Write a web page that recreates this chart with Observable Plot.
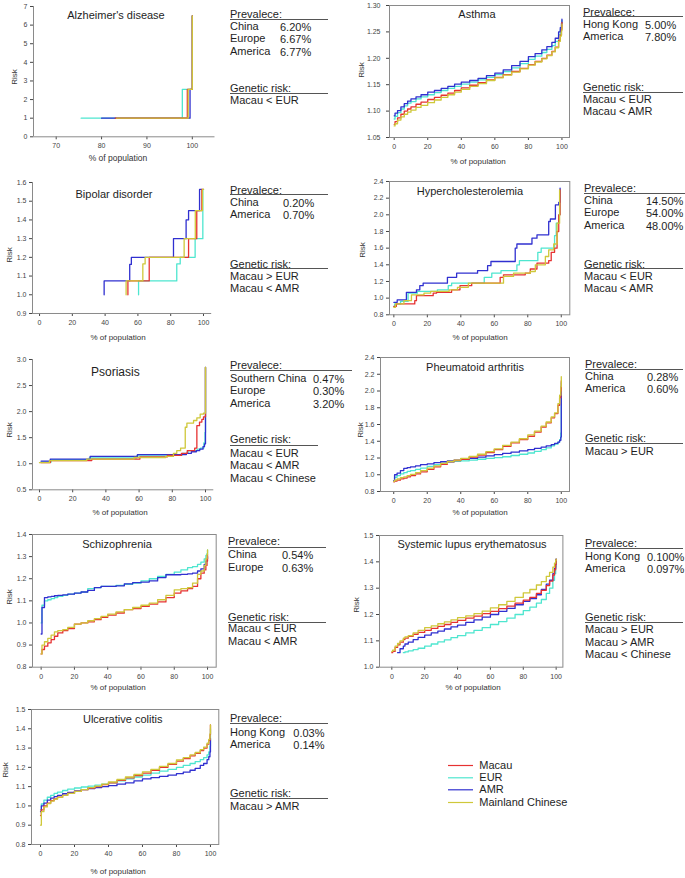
<!DOCTYPE html>
<html><head><meta charset="utf-8">
<script src="https://cdn.jsdelivr.net/npm/d3@7"></script>
<script src="https://cdn.jsdelivr.net/npm/@observablehq/plot@0.6"></script>
<style>
body{margin:0;background:#fff;}
#page{position:relative;width:685px;height:878px;overflow:hidden;font-family:"Liberation Sans",Arial,sans-serif;color:#222;background:#fff;}
.abs{position:absolute;white-space:nowrap;line-height:1;}
</style></head><body><div id="page"></div>
<script>
// ---------- series ----------
const seriesNames = ["Macau","EUR","AMR","Mainland Chinese"];
const seriesColors = ["#e63232","#4ee6cf","#3030d0","#cfc83a"];
const drawOrder = ["EUR","AMR","Macau","Mainland Chinese"];
const xTicks = [0,20,40,60,80,100];

// ---------- Alzheimer's disease: [% of population, risk] step corners ----------
const alzMacau   = [[83,1],[98.9,2.55],[100,6.5]];
const alzEUR     = [[75.5,1],[97.8,2.55],[100,6.5]];
const alzAMR     = [[80,1],[99.5,2.55],[100,6.5]];
const alzChinese = [[83.3,1],[99.1,2.55],[100,6.5]];
const alzXTicks = [70,80,90,100];
const alzYTicks = [0,1,2,3,4,5,6,7];

// ---------- shared grid for smooth curves ----------
const gridX = [0,0.5,2,4,6,8,10,13,16,20,24,28,32,36,40,45,50,55,60,65,70,75,80,84,88,91,94,96,98,99,99.7,100];

// ---------- Asthma ----------
const asthmaAMR     = [1.091,1.096,1.101,1.108,1.114,1.119,1.123,1.127,1.131,1.136,1.139,1.143,1.147,1.151,1.155,1.158,1.162,1.167,1.172,1.178,1.186,1.194,1.203,1.209,1.216,1.222,1.230,1.238,1.250,1.258,1.266,1.274];
const asthmaEUR     = [1.085,1.090,1.097,1.104,1.110,1.115,1.118,1.123,1.127,1.131,1.135,1.139,1.143,1.147,1.151,1.155,1.159,1.164,1.169,1.175,1.182,1.190,1.198,1.204,1.211,1.217,1.224,1.232,1.245,1.254,1.262,1.272];
const asthmaMacau   = [1.075,1.080,1.087,1.094,1.100,1.104,1.108,1.113,1.117,1.122,1.126,1.130,1.134,1.139,1.144,1.149,1.154,1.159,1.164,1.169,1.175,1.181,1.188,1.194,1.200,1.206,1.213,1.221,1.234,1.244,1.255,1.268];
const asthmaChinese = [1.072,1.076,1.083,1.089,1.094,1.098,1.102,1.107,1.111,1.116,1.121,1.126,1.131,1.136,1.141,1.147,1.152,1.158,1.163,1.168,1.174,1.180,1.187,1.193,1.199,1.205,1.212,1.220,1.232,1.242,1.252,1.265];
const asthmaYTicks = [1.05,1.10,1.15,1.20,1.25,1.30];

// ---------- Bipolar disorder (step corners) ----------
const bipAMR     = [[39.4,1.0],[39.4,1.074],[55,1.162],[56,1.2],[81.7,1.3],[89.4,1.4],[90.9,1.45],[97.6,1.563],[99,1.563]];
const bipEUR     = [[60.4,1.0],[60.4,1.074],[83.7,1.165],[85.8,1.2],[94.9,1.3],[99.6,1.563],[100,1.563]];
const bipMacau   = [[53.9,1.0],[53.9,1.074],[66.9,1.2],[90.9,1.3],[95.9,1.45],[99,1.563],[100,1.563]];
const bipChinese = [[52.8,1.0],[52.8,1.074],[63,1.165],[64.4,1.2],[88.2,1.3],[95,1.45],[99.4,1.563],[100,1.563]];
const bipYTicks = [0.9,1.0,1.1,1.2,1.3,1.4,1.5,1.6];

// ---------- Hypercholesterolemia (step corners) ----------
const hypAMR     = [[0,0.95],[2,0.98],[7.5,1.07],[13.5,1.1],[15.5,1.15],[17.5,1.18],[32,1.25],[37.5,1.3],[50,1.33],[56,1.39],[58,1.44],[72.5,1.6],[73.5,1.65],[82.5,1.72],[85.5,1.76],[92.5,1.92],[93.5,1.95],[96.5,2.12],[98.5,2.15],[99.3,2.32]];
const hypEUR     = [[0,0.9],[0.5,0.93],[4,0.96],[8.5,1.06],[14,1.08],[26,1.1],[32.5,1.15],[34.5,1.18],[54,1.25],[58.5,1.3],[64,1.33],[73.5,1.4],[75,1.45],[86,1.55],[88,1.6],[96,1.75],[97,1.9],[98.5,2.0],[99.2,2.3]];
const hypMacau   = [[0,0.9],[1.5,0.93],[12.5,0.97],[13.5,1.03],[23.5,1.06],[25.5,1.07],[34.5,1.1],[39.5,1.15],[46.5,1.18],[63.5,1.25],[65.5,1.28],[78.5,1.3],[81.5,1.35],[85.5,1.42],[92.5,1.45],[94,1.55],[96,1.6],[97.5,1.8],[98.5,2.0],[99.3,2.3]];
const hypChinese = [[0,0.89],[1,0.93],[6,0.97],[10.5,1.04],[18,1.06],[22,1.08],[33,1.1],[38,1.13],[44.5,1.18],[65.5,1.26],[71.5,1.3],[81.5,1.32],[84.5,1.4],[90.5,1.5],[92.5,1.58],[95.5,1.65],[97.5,1.9],[99,2.3]];
const hypYTicks = [0.8,1.0,1.2,1.4,1.6,1.8,2.0,2.2,2.4];

// ---------- Psoriasis (step corners) ----------
const psoAMR     = [[1,1.05],[6.5,1.09],[30.5,1.14],[59,1.175],[88.5,1.2],[91.5,1.23],[94.5,1.25],[96.5,1.28],[98.5,1.33],[99.4,1.38],[100,2.85]];
const psoEUR     = [[1,1.03],[7,1.08],[30,1.11],[58.5,1.15],[78,1.17],[86,1.2],[89.5,1.25],[95,1.28],[97,1.3],[99,1.4],[99.7,1.6],[100,2.85]];
const psoMacau   = [[1,1.02],[6.5,1.06],[31.5,1.09],[60.5,1.13],[77,1.16],[85.5,1.2],[89,1.25],[93.5,1.3],[94.8,1.73],[96.4,1.8],[97.8,1.85],[98.8,1.9],[100,2.85]];
const psoChinese = [[0,1.02],[6,1.06],[28.5,1.09],[57,1.12],[76,1.14],[80.7,1.2],[82.7,1.25],[85,1.3],[87.8,1.7],[88.8,1.78],[92.8,1.83],[94.8,1.88],[96.8,1.95],[98.8,1.97],[100,2.85]];
const psoYTicks = [0.5,1.0,1.5,2.0,2.5,3.0];

// ---------- Pheumatoid arthritis ----------
const raAMR     = [0.93,1.0,1.02,1.05,1.075,1.085,1.095,1.105,1.12,1.13,1.145,1.155,1.165,1.175,1.185,1.195,1.21,1.225,1.24,1.255,1.27,1.285,1.30,1.315,1.33,1.345,1.36,1.375,1.39,1.41,1.45,2.05];
const raEUR     = [0.92,0.97,0.99,1.01,1.025,1.04,1.05,1.065,1.08,1.10,1.12,1.135,1.15,1.16,1.165,1.175,1.185,1.195,1.205,1.215,1.23,1.245,1.26,1.28,1.30,1.32,1.345,1.365,1.39,1.42,1.5,2.1];
const raMacau   = [0.915,0.925,0.935,0.95,0.96,0.975,0.99,1.01,1.035,1.065,1.095,1.125,1.155,1.17,1.185,1.21,1.235,1.265,1.30,1.34,1.38,1.42,1.46,1.51,1.57,1.62,1.68,1.73,1.83,1.92,2.0,2.12];
const raChinese = [0.92,0.935,0.95,0.965,0.975,0.99,1.005,1.025,1.05,1.08,1.105,1.135,1.16,1.175,1.195,1.22,1.245,1.275,1.31,1.35,1.39,1.43,1.475,1.52,1.58,1.63,1.69,1.74,1.85,1.95,2.05,2.17];
const raYTicks = [0.8,1.0,1.2,1.4,1.6,1.8,2.0,2.2,2.4];

// ---------- Schizophrenia ----------
const scAMR     = [0.95,1.07,1.115,1.118,1.12,1.123,1.125,1.127,1.13,1.135,1.14,1.147,1.16,1.165,1.165,1.168,1.177,1.182,1.185,1.19,1.205,1.218,1.218,1.22,1.222,1.225,1.235,1.245,1.265,1.28,1.29,1.30];
const scEUR     = [1.0,1.08,1.1,1.105,1.11,1.115,1.12,1.125,1.13,1.135,1.14,1.155,1.16,1.165,1.165,1.17,1.175,1.18,1.19,1.2,1.21,1.22,1.23,1.24,1.25,1.255,1.265,1.275,1.29,1.305,1.315,1.33];
const scMacau   = [0.86,0.88,0.895,0.91,0.925,0.94,0.955,0.965,0.975,0.995,1.0,1.005,1.015,1.025,1.035,1.045,1.06,1.065,1.075,1.085,1.095,1.115,1.135,1.145,1.155,1.165,1.2,1.225,1.24,1.26,1.28,1.31];
const scChinese = [0.86,0.9,0.915,0.93,0.945,0.96,0.965,0.97,0.98,0.995,1.0,1.01,1.02,1.03,1.04,1.05,1.06,1.07,1.08,1.09,1.105,1.125,1.15,1.155,1.16,1.18,1.22,1.235,1.26,1.29,1.31,1.33];
const scYTicks = [0.8,0.9,1.0,1.1,1.2,1.3,1.4];

// ---------- Systemic lupus erythematosus ----------
const sleX = [0,0.5,2,3.5,5,7,8,10,13,16,20,24,28,32,36,40,45,50,55,60,65,70,75,80,84,88,91,94,96,98,99,99.7,100];
const sleChinese = [1.06,1.065,1.08,1.09,1.10,1.11,1.115,1.12,1.13,1.14,1.15,1.157,1.165,1.172,1.18,1.188,1.195,1.203,1.213,1.225,1.237,1.25,1.265,1.282,1.295,1.312,1.325,1.345,1.36,1.38,1.395,1.405,1.41];
const sleMacau   = [1.055,1.06,1.075,1.085,1.095,1.105,1.11,1.117,1.125,1.132,1.14,1.147,1.155,1.162,1.17,1.178,1.186,1.194,1.203,1.212,1.222,1.232,1.243,1.255,1.265,1.28,1.292,1.31,1.327,1.35,1.37,1.39,1.41];
const sleAMR     = [null,null,null,1.055,1.07,1.08,1.088,1.095,1.105,1.113,1.122,1.13,1.137,1.145,1.153,1.16,1.17,1.18,1.19,1.2,1.212,1.223,1.237,1.25,1.26,1.275,1.295,1.315,1.33,1.355,1.375,1.395,1.41];
const sleEUR     = [null,null,null,null,null,1.055,1.058,1.062,1.067,1.072,1.08,1.088,1.096,1.104,1.112,1.12,1.13,1.14,1.15,1.162,1.173,1.186,1.2,1.215,1.228,1.243,1.257,1.28,1.3,1.33,1.355,1.38,1.41];
const sleYTicks = [1.0,1.1,1.2,1.3,1.4,1.5];

// ---------- Ulcerative colitis ----------
const ucAMR     = [0.97,1.0,1.015,1.03,1.04,1.048,1.055,1.063,1.07,1.078,1.085,1.09,1.095,1.1,1.105,1.113,1.12,1.13,1.14,1.147,1.153,1.16,1.167,1.175,1.185,1.195,1.21,1.22,1.24,1.255,1.28,1.35];
const ucEUR     = [0.98,1.01,1.03,1.045,1.055,1.065,1.072,1.08,1.087,1.093,1.098,1.103,1.108,1.113,1.12,1.13,1.14,1.15,1.16,1.17,1.18,1.19,1.2,1.21,1.22,1.23,1.24,1.25,1.265,1.28,1.31,1.4];
const ucMacau   = [0.95,0.98,1.0,1.015,1.027,1.037,1.045,1.055,1.065,1.075,1.085,1.093,1.1,1.11,1.12,1.132,1.145,1.157,1.17,1.185,1.2,1.215,1.232,1.245,1.26,1.272,1.287,1.3,1.32,1.34,1.37,1.42];
const ucChinese = [0.9,0.97,0.995,1.012,1.025,1.035,1.044,1.055,1.065,1.075,1.085,1.095,1.103,1.113,1.124,1.137,1.15,1.163,1.177,1.19,1.205,1.22,1.238,1.25,1.265,1.277,1.292,1.305,1.325,1.345,1.375,1.42];
const ucYTicks = [0.8,0.9,1.0,1.1,1.2,1.3,1.4,1.5];

// ---------- text ----------
const titles = ["Alzheimer's disease","Asthma","Bipolar disorder","Hypercholesterolemia","Psoriasis","Pheumatoid arthritis","Schizophrenia","Systemic lupus erythematosus","Ulcerative colitis"];
const prevLabels = [["China","Europe","America"],["Hong Kong","America"],["China","America"],["China","Europe","America"],["Southern China","Europe","America"],["China","America"],["China","Europe"],["Hong Kong","America"],["Hong Kong","America"]];
const prevValues = [["6.20%","6.67%","6.77%"],["5.00%","7.80%"],["0.20%","0.70%"],["14.50%","54.00%","48.00%"],["0.47%","0.30%","3.20%"],["0.28%","0.60%"],["0.54%","0.63%"],["0.100%","0.097%"],["0.03%","0.14%"]];
const geneticRisk = [["Macau < EUR"],["Macau < EUR","Macau < AMR"],["Macau > EUR","Macau < AMR"],["Macau < EUR","Macau < AMR"],["Macau < EUR","Macau < AMR","Macau < Chinese"],["Macau > EUR"],["Macau < EUR","Macau < AMR"],["Macau > EUR","Macau > AMR","Macau < Chinese"],["Macau > AMR"]];

// ---------- helpers ----------
const page = document.getElementById("page");
const colorOf = Object.fromEntries(seriesNames.map((n,i)=>[n,seriesColors[i]]));
const axisGray = "#8a8a8a";
const pair = (xs, ys) => xs.map((x,i)=>[x, ys[i]]).filter(d => d[1] != null);

function txt(s, x, y, o = {}) {
  const d = document.createElement("div");
  d.className = "abs";
  d.textContent = s;
  d.style.left = x + "px";
  d.style.top = y + "px";
  d.style.fontSize = (o.size || 11) + "px";
  d.style.color = o.color || "#1e1e1e";
  let tf = o.anchor === "middle" ? "translate(-50%,-50%)" : "translate(0,-50%)";
  if (o.rotate) tf += " rotate(-90deg)";
  d.style.transform = tf;
  page.appendChild(d);
}
function hline(x1, x2, y, color, th) {
  const d = document.createElement("div");
  d.style.position = "absolute";
  d.style.left = Math.round(x1) + "px"; d.style.top = Math.round(y) + "px";
  d.style.width = Math.round(x2 - x1) + "px"; d.style.height = (th || 1) + "px";
  d.style.backgroundColor = color;
  page.appendChild(d);
}

function drawPanel(p) {
  const ml = 40, mr = 4, mt = 6, mb = 24;
  const w = p.R - p.L + ml + mr, h = p.B - p.T + mt + mb;
  const marks = [];
  if (p.box) marks.push(Plot.frame({stroke: axisGray}));
  else marks.push(Plot.ruleX([p.xd[0]], {stroke: axisGray}), Plot.ruleY([p.yd[0]], {stroke: axisGray}));
  for (const name of drawOrder) {
    marks.push(Plot.line(p.series[name], {x: d => d[0], y: d => d[1], stroke: colorOf[name], strokeWidth: 1.3, curve: "step-after"}));
  }
  const svg = Plot.plot({
    width: w, height: h, marginLeft: ml, marginRight: mr, marginTop: mt, marginBottom: mb,
    x: {domain: p.xd, ticks: p.xt, tickSize: 3, tickPadding: 3.5, label: null},
    y: {domain: p.yd, ticks: p.yt, tickSize: 3, tickPadding: p.yPad || 3, tickFormat: d3.format(p.fmt), label: null},
    style: {fontFamily: '"Liberation Sans", Arial, sans-serif', fontSize: "7px", color: "#444", background: "none", overflow: "visible"},
    marks
  });
  svg.style.position = "absolute";
  svg.style.left = (p.L - ml) + "px";
  svg.style.top = (p.T - mt) + "px";
  page.appendChild(svg);
  // title and axis labels
  txt(titles[p.i], p.title[0], p.title[1], {anchor: "middle", size: p.titleSize || 11});
  txt("% of population", p.xlab[0], p.xlab[1], {anchor: "middle", size: p.labSize || 8, color: "#333"});
  txt("Risk", p.ylab[0], p.ylab[1], {anchor: "middle", size: 8, rotate: true, color: "#333"});
  // prevalence block
  const t = p.text;
  txt("Prevalece:", t.x, t.head);
  hline(t.x, t.lineR, t.line, "#555");
  prevLabels[p.i].forEach((lab, k) => {
    txt(lab, t.x, t.row0 + k * 12.4);
    txt(prevValues[p.i][k], t.valX, t.row0 + k * 12.4 + 1);
  });
  txt("Genetic risk:", t.x, t.gHead);
  hline(t.x, t.gR, t.gLine, "#555");
  geneticRisk[p.i].forEach((g, k) => txt(g, t.x, t.grow0 + k * 12.3));
}

const panels = [
  {i:0, L:32.5, R:214, T:5.7, B:136, xd:[65,105], yd:[0,7], xt:alzXTicks, yt:alzYTicks, fmt:"d", box:false,
   series:{"Macau":alzMacau,"EUR":alzEUR,"AMR":alzAMR,"Mainland Chinese":alzChinese},
   title:[116,15], xlab:[118,158], ylab:[15,77], labSize:8.5,
   text:{x:230, head:14, line:18.5, lineR:328, row0:26, valX:280, gHead:88, gLine:93, gR:328, grow0:100}},
  {i:1, L:389.3, R:569.3, T:4.7, B:136.7, xd:[-2.8,104.5], yd:[1.05,1.30], xt:xTicks, yt:asthmaYTicks, fmt:".2f", box:true, yPad:6,
   series:{"Macau":pair(gridX,asthmaMacau),"EUR":pair(gridX,asthmaEUR),"AMR":pair(gridX,asthmaAMR),"Mainland Chinese":pair(gridX,asthmaChinese)},
   title:[477,13.5], xlab:[478,162], ylab:[362,70],
   text:{x:583, head:12, line:16.3, lineR:683, row0:24, valX:645, gHead:87, gLine:92, gR:683, grow0:98.5}},
  {i:2, L:32.3, R:211.5, T:182.3, B:313.3, xd:[-4.3,105], yd:[0.9,1.6], xt:xTicks, yt:bipYTicks, fmt:".1f", box:false,
   series:{"Macau":bipMacau,"EUR":bipEUR,"AMR":bipAMR,"Mainland Chinese":bipChinese},
   title:[114,194.3], xlab:[118,338], ylab:[9.5,255],
   text:{x:230, head:190, line:194.3, lineR:328, row0:202, valX:283, gHead:264, gLine:268.3, gR:328, grow0:276}},
  {i:3, L:389, R:569.3, T:180.7, B:314, xd:[-2.6,105.1], yd:[0.8,2.4], xt:xTicks, yt:hypYTicks, fmt:".1f", box:true,
   series:{"Macau":hypMacau,"EUR":hypEUR,"AMR":hypAMR,"Mainland Chinese":hypChinese},
   title:[470,190.7], xlab:[480,338], ylab:[363,250],
   text:{x:584, head:188.3, line:193.3, lineR:685, row0:200, valX:646, gHead:264, gLine:268.3, gR:683, grow0:275.5}},
  {i:4, L:32.3, R:213.6, T:359, B:489.3, xd:[-4.2,105], yd:[0.5,3.0], xt:xTicks, yt:psoYTicks, fmt:".1f", box:false,
   series:{"Macau":psoMacau,"EUR":psoEUR,"AMR":psoAMR,"Mainland Chinese":psoChinese},
   title:[115.3,371.7], xlab:[120,513], ylab:[9.5,430], titleSize:12,
   text:{x:230, head:365, line:369.5, lineR:352, row0:377.7, valX:313, gHead:439, gLine:444.5, gR:318, grow0:453}},
  {i:5, L:380, R:569, T:356.7, B:490.7, xd:[-7.9,104.9], yd:[0.8,2.4], xt:xTicks, yt:raYTicks, fmt:".1f", box:true,
   series:{"Macau":pair(gridX,raMacau),"EUR":pair(gridX,raEUR),"AMR":pair(gridX,raAMR),"Mainland Chinese":pair(gridX,raChinese)},
   title:[475,367.3], xlab:[480,513], ylab:[361,430],
   text:{x:585, head:364, line:369, lineR:683, row0:375.7, valX:647, gHead:438, gLine:443, gR:683, grow0:450.5}},
  {i:6, L:32.3, R:216, T:534, B:666.7, xd:[-5.2,105.2], yd:[0.8,1.4], xt:xTicks, yt:scYTicks, fmt:".1f", box:true,
   series:{"Macau":pair(gridX,scMacau),"EUR":pair(gridX,scEUR),"AMR":pair(gridX,scAMR),"Mainland Chinese":pair(gridX,scChinese)},
   title:[117,544.3], xlab:[118,688], ylab:[9.5,597],
   text:{x:228, head:541, line:546.7, lineR:326, row0:554.3, valX:282, gHead:616.7, gLine:621.7, gR:326, grow0:628.3}},
  {i:7, L:379.3, R:562.7, T:535, B:666.7, xd:[-7.5,104.1], yd:[1.0,1.5], xt:xTicks, yt:sleYTicks, fmt:".1f", box:true,
   series:{"Macau":pair(sleX,sleMacau),"EUR":pair(sleX,sleEUR),"AMR":pair(sleX,sleAMR),"Mainland Chinese":pair(sleX,sleChinese)},
   title:[472,544.3], xlab:[473,688], ylab:[357,605],
   text:{x:585, head:543.3, line:547.7, lineR:683, row0:555.7, valX:647, gHead:616.7, gLine:622, gR:683, grow0:629.3}},
  {i:8, L:31, R:218.3, T:709.3, B:844.3, xd:[-5.3,104.9], yd:[0.8,1.5], xt:xTicks, yt:ucYTicks, fmt:".1f", box:true,
   series:{"Macau":pair(gridX,ucMacau),"EUR":pair(gridX,ucEUR),"AMR":pair(gridX,ucAMR),"Mainland Chinese":pair(gridX,ucChinese)},
   title:[122.7,719.3], xlab:[118,871.5], ylab:[5.5,770],
   text:{x:230, head:718.3, line:723.3, lineR:328, row0:731.7, valX:293.3, gHead:793.3, gLine:798.3, gR:328, grow0:806}}
];
panels.forEach(drawPanel);

// ---------- legend (swatch lines drawn by Plot, labels as text) ----------
const legendY = [765, 777.3, 789.3, 802];
const legendTop = 755;
const legendSvg = Plot.plot({
  width: 27, height: 56, margin: 0,
  x: {domain: [0, 27], range: [0, 27], axis: null},
  y: {domain: [0, 56], range: [0, 56], axis: null},
  style: {background: "none", overflow: "visible"},
  marks: seriesNames.map((n, k) => Plot.ruleY([legendY[k] - legendTop], {x1: 0, x2: 25, stroke: colorOf[n], strokeWidth: 1.2}))
});
legendSvg.style.position = "absolute";
legendSvg.style.left = "448px";
legendSvg.style.top = legendTop + "px";
page.appendChild(legendSvg);
seriesNames.forEach((n, k) => txt(n, 479.3, legendY[k]));
</script></body></html>
